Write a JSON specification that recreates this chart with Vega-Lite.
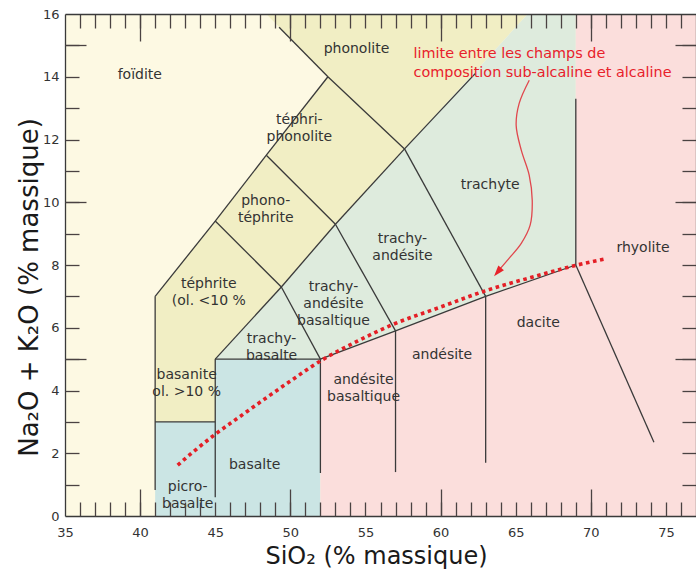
{
  "$schema": "https://vega.github.io/schema/vega-lite/v6.json",
  "width": 631,
  "height": 502,
  "autosize": {"type": "none"},
  "padding": {"left": 65, "top": 14, "right": 0, "bottom": 55},
  "background": "white",
  "config": {
    "font": "DejaVu Sans",
    "view": {"fill": "#FDF9E3", "stroke": null},
    "axis": {"grid": false, "tickColor": "#4a4242", "tickWidth": 1.3, "domainColor": "#3a3a3a", "domainWidth": 1.3, "labelColor": "#333333", "labelFontSize": 13, "labelFont": "DejaVu Sans", "titleColor": "#1a1a1a", "titleFontWeight": "normal", "titleFontSize": 22, "titleFont": "DejaVu Sans"}
  },
  "datasets": {
    "poly": [
      {"g": "olive", "i": 1, "x": 41, "y": 3},
      {"g": "olive", "i": 2, "x": 41, "y": 7},
      {"g": "olive", "i": 3, "x": 45, "y": 9.4},
      {"g": "olive", "i": 4, "x": 48.4, "y": 11.5},
      {"g": "olive", "i": 5, "x": 52.5, "y": 14},
      {"g": "olive", "i": 6, "x": 48.4, "y": 16},
      {"g": "olive", "i": 7, "x": 65.8, "y": 16},
      {"g": "olive", "i": 8, "x": 57.6, "y": 11.7},
      {"g": "olive", "i": 9, "x": 53, "y": 9.3},
      {"g": "olive", "i": 10, "x": 49.4, "y": 7.3},
      {"g": "olive", "i": 11, "x": 45, "y": 5},
      {"g": "olive", "i": 12, "x": 45, "y": 3},
      {"g": "green", "i": 1, "x": 45, "y": 5},
      {"g": "green", "i": 2, "x": 49.4, "y": 7.3},
      {"g": "green", "i": 3, "x": 53, "y": 9.3},
      {"g": "green", "i": 4, "x": 57.6, "y": 11.7},
      {"g": "green", "i": 5, "x": 65.8, "y": 16},
      {"g": "green", "i": 6, "x": 69, "y": 16},
      {"g": "green", "i": 7, "x": 69, "y": 8},
      {"g": "green", "i": 8, "x": 63, "y": 7},
      {"g": "green", "i": 9, "x": 57, "y": 5.9},
      {"g": "green", "i": 10, "x": 52, "y": 5},
      {"g": "blue", "i": 1, "x": 41, "y": 0},
      {"g": "blue", "i": 2, "x": 41, "y": 3},
      {"g": "blue", "i": 3, "x": 45, "y": 3},
      {"g": "blue", "i": 4, "x": 45, "y": 5},
      {"g": "blue", "i": 5, "x": 52, "y": 5},
      {"g": "blue", "i": 6, "x": 52, "y": 0},
      {"g": "pink", "i": 1, "x": 52, "y": 0},
      {"g": "pink", "i": 2, "x": 52, "y": 5},
      {"g": "pink", "i": 3, "x": 57, "y": 5.9},
      {"g": "pink", "i": 4, "x": 63, "y": 7},
      {"g": "pink", "i": 5, "x": 69, "y": 8},
      {"g": "pink", "i": 6, "x": 69, "y": 16},
      {"g": "pink", "i": 7, "x": 77, "y": 16},
      {"g": "pink", "i": 8, "x": 77, "y": 0}
    ],
    "seg": [
      {"x": 41, "y": 0.83, "x2": 41, "y2": 7},
      {"x": 41, "y": 7, "x2": 45, "y2": 9.4},
      {"x": 45, "y": 9.4, "x2": 48.4, "y2": 11.5},
      {"x": 48.4, "y": 11.5, "x2": 52.5, "y2": 14},
      {"x": 52.5, "y": 14, "x2": 49.25, "y2": 15.58},
      {"x": 41, "y": 3, "x2": 45, "y2": 3},
      {"x": 45, "y": 0.6, "x2": 45, "y2": 5},
      {"x": 45, "y": 5, "x2": 52, "y2": 5},
      {"x": 45, "y": 5, "x2": 49.4, "y2": 7.3},
      {"x": 49.4, "y": 7.3, "x2": 52, "y2": 5},
      {"x": 45, "y": 9.4, "x2": 49.4, "y2": 7.3},
      {"x": 49.4, "y": 7.3, "x2": 53, "y2": 9.3},
      {"x": 48.4, "y": 11.5, "x2": 53, "y2": 9.3},
      {"x": 53, "y": 9.3, "x2": 57, "y2": 5.9},
      {"x": 53, "y": 9.3, "x2": 57.6, "y2": 11.7},
      {"x": 57.6, "y": 11.7, "x2": 63, "y2": 7},
      {"x": 52.5, "y": 14, "x2": 57.6, "y2": 11.7},
      {"x": 57.6, "y": 11.7, "x2": 62.3, "y2": 14.1},
      {"x": 52, "y": 5, "x2": 57, "y2": 5.9},
      {"x": 57, "y": 5.9, "x2": 63, "y2": 7},
      {"x": 63, "y": 7, "x2": 69, "y2": 8},
      {"x": 69, "y": 8, "x2": 69, "y2": 13.3},
      {"x": 69, "y": 8, "x2": 74.2, "y2": 2.35},
      {"x": 52, "y": 1.37, "x2": 52, "y2": 5},
      {"x": 57, "y": 1.4, "x2": 57, "y2": 5.9},
      {"x": 63, "y": 1.7, "x2": 63, "y2": 7}
    ],
    "curve": [
      {"x": 42.5, "y": 1.62},
      {"x": 43.5, "y": 2.03},
      {"x": 45.1, "y": 2.64},
      {"x": 46.5, "y": 3.12},
      {"x": 48.2, "y": 3.7},
      {"x": 50, "y": 4.3},
      {"x": 52.1, "y": 4.97},
      {"x": 54.5, "y": 5.58},
      {"x": 56.8, "y": 6.1},
      {"x": 60, "y": 6.66},
      {"x": 63, "y": 7.18},
      {"x": 66, "y": 7.6},
      {"x": 69.1, "y": 8.0},
      {"x": 71, "y": 8.2}
    ],
    "arrow": [
      {"i": 1, "x": 65.9, "y": 13.89},
      {"i": 2, "x": 65.23, "y": 13.15},
      {"i": 3, "x": 65.03, "y": 12.45},
      {"i": 4, "x": 65.37, "y": 11.66},
      {"i": 5, "x": 65.9, "y": 10.86},
      {"i": 6, "x": 66.1, "y": 10.06},
      {"i": 7, "x": 65.96, "y": 9.27},
      {"i": 8, "x": 65.37, "y": 8.69},
      {"i": 9, "x": 64.57, "y": 8.22},
      {"i": 10, "x": 63.85, "y": 7.82}
    ],
    "head": [{"x": 63.82, "y": 7.79}],
    "labels": [
      {"t": "foïdite", "x": 39.98, "y": 14.04},
      {"t": "phonolite", "x": 54.4, "y": 14.9},
      {"t": "téphri-\nphonolite", "x": 50.6, "y": 12.63},
      {"t": "phono-\ntéphrite", "x": 48.36, "y": 10.03},
      {"t": "téphrite\n(ol. <10 %", "x": 44.57, "y": 7.39},
      {"t": "basanite\nol. >10 %", "x": 43.1, "y": 4.49},
      {"t": "trachy-\nbasalte", "x": 48.75, "y": 5.65},
      {"t": "trachy-\nandésite\nbasaltique", "x": 52.87, "y": 7.29},
      {"t": "trachy-\nandésite", "x": 57.46, "y": 8.82},
      {"t": "trachyte", "x": 63.3, "y": 10.54},
      {"t": "rhyolite", "x": 73.47, "y": 8.54},
      {"t": "dacite", "x": 66.5, "y": 6.15},
      {"t": "andésite", "x": 60.1, "y": 5.13},
      {"t": "andésite\nbasaltique", "x": 54.87, "y": 4.32},
      {"t": "basalte", "x": 47.62, "y": 1.62},
      {"t": "picro-\nbasalte", "x": 43.17, "y": 0.92}
    ],
    "note": [
      {"t": "limite entre les champs de\ncomposition sub-alcaline et alcaline", "x": 58.2, "y": 14.71}
    ]
  },
  "layer": [
    {
      "data": {"name": "poly"},
      "transform": [{"filter": "datum.g === 'olive'"}],
      "mark": {"type": "line", "fill": "#F1EEC4", "strokeWidth": 0, "interpolate": "linear"},
      "encoding": {
        "x": {"field": "x", "type": "quantitative", "scale": {"domain": [35, 77], "nice": false, "zero": false},
          "axis": {"orient": "bottom", "values": [35, 40, 45, 50, 55, 60, 65, 70, 75], "ticks": false, "domain": true, "zindex": 1, "labelPadding": 10, "labelOverlap": false, "labelFlush": false, "title": "SiO₂ (% massique)", "titleFontSize": 24, "titleX": 311, "titleY": 40, "titleBaseline": "middle", "titleAlign": "center"}},
        "y": {"field": "y", "type": "quantitative", "scale": {"domain": [0, 16], "nice": false, "zero": false},
          "axis": {"orient": "left", "values": [0, 2, 4, 6, 8, 10, 12, 14, 16], "ticks": false, "domain": true, "zindex": 1, "labelPadding": 6, "labelOverlap": false, "labelFlush": false, "title": "Na₂O + K₂O (% massique)", "titleFontSize": 26, "titleX": -36, "titleY": 273, "titleBaseline": "middle", "titleAlign": "center", "titleAngle": -90}},
        "order": {"field": "i", "type": "quantitative"}
      }
    },
    {
      "data": {"name": "poly"},
      "transform": [{"filter": "datum.g === 'green'"}],
      "mark": {"type": "line", "fill": "#DEEBDD", "strokeWidth": 0, "interpolate": "linear"},
      "encoding": {
        "x": {"field": "x", "type": "quantitative", "scale": {"domain": [35, 77], "nice": false, "zero": false},
          "axis": {"orient": "bottom", "offset": -14, "values": [36, 37, 38, 39, 40, 41, 42, 43, 44, 45, 46, 47, 48, 49, 50, 51, 52, 53, 54, 55, 56, 57, 58, 59, 60, 61, 62, 63, 64, 65, 66, 67, 68, 69, 70, 71, 72, 73, 74, 75, 76], "labels": false, "ticks": true, "tickSize": 14, "domain": false, "zindex": 1, "title": null}},
        "y": {"field": "y", "type": "quantitative", "scale": {"domain": [0, 16], "nice": false, "zero": false},
          "axis": {"orient": "left", "offset": -14, "values": [1, 2, 3, 4, 5, 6, 7, 8, 9, 10, 11, 12, 13, 14, 15], "labels": false, "ticks": true, "tickSize": 14, "domain": false, "zindex": 1, "title": null}},
        "order": {"field": "i", "type": "quantitative"}
      }
    },
    {
      "data": {"name": "poly"},
      "transform": [{"filter": "datum.g === 'blue'"}],
      "mark": {"type": "line", "fill": "#CBE5E4", "strokeWidth": 0, "interpolate": "linear"},
      "encoding": {
        "x": {"field": "x", "type": "quantitative", "scale": {"domain": [35, 77], "nice": false, "zero": false},
          "axis": {"orient": "bottom", "offset": -27, "values": [40, 50, 60, 70], "labels": false, "ticks": true, "tickSize": 27, "domain": false, "zindex": 1, "title": null}},
        "y": {"field": "y", "type": "quantitative", "scale": {"domain": [0, 16], "nice": false, "zero": false},
          "axis": {"orient": "left", "offset": -21, "values": [5, 10, 15], "labels": false, "ticks": true, "tickSize": 21, "domain": false, "zindex": 1, "title": null}},
        "order": {"field": "i", "type": "quantitative"}
      }
    },
    {
      "data": {"name": "poly"},
      "transform": [{"filter": "datum.g === 'pink'"}],
      "mark": {"type": "line", "fill": "#FBDEDC", "strokeWidth": 0, "interpolate": "linear"},
      "encoding": {
        "x": {"field": "x", "type": "quantitative", "scale": {"domain": [35, 77], "nice": false, "zero": false},
          "axis": {"orient": "top", "offset": -14, "values": [36, 37, 38, 39, 40, 41, 42, 43, 44, 45, 46, 47, 48, 49, 50, 51, 52, 53, 54, 55, 56, 57, 58, 59, 60, 61, 62, 63, 64, 65, 66, 67, 68, 69, 70, 71, 72, 73, 74, 75, 76], "labels": false, "ticks": true, "tickSize": 14, "domain": false, "zindex": 1, "title": null}},
        "y": {"field": "y", "type": "quantitative", "scale": {"domain": [0, 16], "nice": false, "zero": false},
          "axis": {"orient": "right", "offset": -14, "values": [1, 2, 3, 4, 5, 6, 7, 8, 9, 10, 11, 12, 13, 14, 15], "labels": false, "ticks": true, "tickSize": 14, "domain": false, "zindex": 1, "title": null}},
        "order": {"field": "i", "type": "quantitative"}
      }
    },
    {
      "data": {"name": "seg"},
      "mark": {"type": "rule", "color": "#3a3a3a", "strokeWidth": 1.3},
      "encoding": {
        "x": {"field": "x", "type": "quantitative", "scale": {"domain": [35, 77], "nice": false, "zero": false},
          "axis": {"orient": "top", "offset": -27, "values": [40, 50, 60, 70], "labels": false, "ticks": true, "tickSize": 27, "domain": false, "zindex": 1, "title": null}},
        "y": {"field": "y", "type": "quantitative", "scale": {"domain": [0, 16], "nice": false, "zero": false},
          "axis": {"orient": "right", "offset": -21, "values": [5, 10, 15], "labels": false, "ticks": true, "tickSize": 21, "domain": false, "zindex": 1, "title": null}},
        "x2": {"field": "x2"},
        "y2": {"field": "y2"}
      }
    },
    {
      "data": {"name": "curve"},
      "mark": {"type": "line", "color": "#E41F26", "strokeWidth": 3.6, "strokeDash": [3.6, 3.6], "strokeCap": "butt", "interpolate": "monotone"},
      "encoding": {
        "x": {"field": "x", "type": "quantitative", "scale": {"domain": [35, 77], "nice": false, "zero": false},
          "axis": {"orient": "top", "labels": false, "ticks": false, "domain": true, "zindex": 1, "title": null}},
        "y": {"field": "y", "type": "quantitative", "scale": {"domain": [0, 16], "nice": false, "zero": false},
          "axis": {"orient": "right", "labels": false, "ticks": false, "domain": true, "zindex": 1, "title": null}}
      }
    },
    {
      "data": {"name": "labels"},
      "mark": {"type": "text", "color": "#333333", "fontSize": 14, "lineBreak": "\n", "lineHeight": 17, "align": "center", "baseline": "middle"},
      "encoding": {
        "x": {"field": "x", "type": "quantitative", "scale": {"domain": [35, 77], "nice": false, "zero": false}, "axis": null},
        "y": {"field": "y", "type": "quantitative", "scale": {"domain": [0, 16], "nice": false, "zero": false}, "axis": null},
        "text": {"field": "t"}
      }
    },
    {
      "data": {"name": "note"},
      "mark": {"type": "text", "color": "#E8212B", "fontSize": 14.4, "lineBreak": "\n", "lineHeight": 19, "align": "left", "baseline": "middle"},
      "encoding": {
        "x": {"field": "x", "type": "quantitative", "scale": {"domain": [35, 77], "nice": false, "zero": false}, "axis": null},
        "y": {"field": "y", "type": "quantitative", "scale": {"domain": [0, 16], "nice": false, "zero": false}, "axis": null},
        "text": {"field": "t"}
      }
    },
    {
      "data": {"name": "arrow"},
      "mark": {"type": "line", "color": "#E0474D", "strokeWidth": 1.3, "interpolate": "catmull-rom"},
      "encoding": {
        "x": {"field": "x", "type": "quantitative", "scale": {"domain": [35, 77], "nice": false, "zero": false}, "axis": null},
        "y": {"field": "y", "type": "quantitative", "scale": {"domain": [0, 16], "nice": false, "zero": false}, "axis": null},
        "order": {"field": "i", "type": "quantitative"}
      }
    },
    {
      "data": {"name": "head"},
      "mark": {"type": "point", "shape": "M0,-1L0.6,0.8L-0.6,0.8Z", "filled": true, "color": "#E8232B", "opacity": 1, "size": 150, "angle": 220},
      "encoding": {
        "x": {"field": "x", "type": "quantitative", "scale": {"domain": [35, 77], "nice": false, "zero": false}, "axis": null},
        "y": {"field": "y", "type": "quantitative", "scale": {"domain": [0, 16], "nice": false, "zero": false}, "axis": null}
      }
    }
  ],
  "resolve": {"axis": {"x": "independent", "y": "independent"}}
}
